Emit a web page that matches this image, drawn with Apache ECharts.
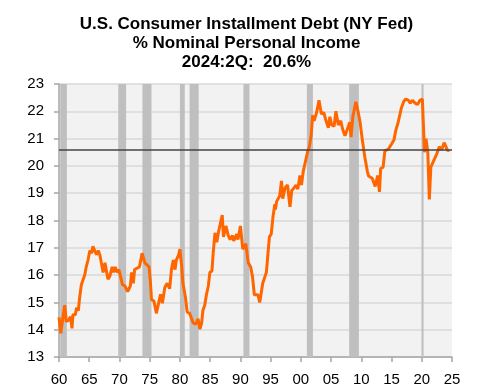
<!DOCTYPE html>
<html>
<head>
<meta charset="utf-8">
<script src="https://cdn.jsdelivr.net/npm/echarts@6/dist/echarts.min.js"></script>
<style>
html,body{margin:0;padding:0;background:#fff;}
#c{width:493px;height:391px;}
</style>
</head>
<body>
<div id="c"></div>
<script>
// Decimal year of each reading and the debt / income ratio (%)
const years = [
1960.0,1960.3,1960.7,1960.95,1961.2,1961.6,1961.9,1962.15,1962.3,1962.7,1962.9,1963.2,1963.4,1963.7,
1964.0,1964.25,1964.5,1964.8,1965.1,1965.4,1965.6,1965.9,1966.2,1966.5,1966.8,1967.0,1967.3,1967.6,
1967.8,1968.1,1968.4,1968.8,1969.0,1969.3,1969.6,1969.9,1970.2,1970.5,1970.9,1971.2,1971.35,1971.8,
1972.0,1972.3,1972.5,1972.9,1973.3,1973.75,1973.9,1974.2,1974.5,1974.9,1975.1,1975.3,1975.7,1976.1,
1976.6,1976.8,1977.1,1977.5,1977.9,1978.3,1978.6,1978.9,1979.2,1979.4,1979.8,1980.0,1980.3,1980.5,
1980.9,1981.2,1981.6,1981.9,1982.2,1982.6,1983.0,1983.3,1983.6,1983.8,1984.1,1984.4,1984.7,1984.95,
1985.3,1985.5,1985.8,1986.1,1986.4,1986.7,1987.0,1987.2,1987.6,1988.0,1988.3,1988.7,1988.9,1989.4,
1989.6,1990.0,1990.4,1990.9,1991.3,1991.7,1992.0,1992.3,1992.9,1993.2,1993.4,1993.7,1994.0,1994.3,
1994.8,1995.1,1995.4,1995.7,1995.8,1996.0,1996.5,1996.8,1997.0,1997.4,1997.8,1998.2,1998.5,1998.9,
1999.2,1999.5,1999.85,2000.1,2000.4,2000.85,2001.1,2001.4,2001.7,2001.95,2002.2,2002.6,2003.0,2003.4,
2003.8,2004.1,2004.55,2004.8,2005.1,2005.5,2005.8,2006.2,2006.6,2006.9,2007.3,2007.7,2008.1,2008.3,
2008.6,2009.1,2009.5,2009.8,2010.2,2010.6,2011.0,2011.2,2011.8,2012.3,2012.7,2013.0,2013.2,2013.6,
2013.9,2014.5,2015.0,2015.4,2015.7,2016.1,2016.6,2017.0,2017.35,2017.8,2018.1,2018.45,2018.9,2019.3,
2019.7,2020.1,2020.45,2020.7,2021.0,2021.25,2021.5,2022.0,2022.5,2022.9,2023.3,2023.7,2024.0,2024.3,2024.5
];
const ratio = [
14.45,13.87,14.55,14.9,14.3,14.35,14.48,14.05,14.55,14.55,14.8,14.7,15.15,15.65,
15.7,16.0,16.3,16.55,16.9,16.8,17.05,17.1,16.75,16.9,16.7,16.45,16.1,16.45,
16.4,15.85,15.95,16.3,16.1,16.3,16.1,16.2,16.2,15.65,15.6,15.65,15.4,15.6,
16.1,15.7,16.2,16.25,16.3,16.8,16.8,16.45,16.5,16.3,15.8,15.1,15.05,14.6,
15.1,15.3,14.97,15.55,15.7,15.5,16.2,16.55,16.2,16.55,16.75,16.95,16.3,15.7,
15.2,14.65,14.6,14.55,14.25,14.2,14.4,14.02,14.25,14.7,14.9,15.3,15.6,16.1,
16.15,16.8,17.55,17.2,17.6,17.9,18.2,17.4,17.8,17.45,17.3,17.45,17.25,17.5,
17.3,17.8,16.95,17.15,16.45,16.3,15.95,15.28,15.28,15.0,15.05,15.7,15.9,16.1,
17.4,17.5,18.15,18.6,18.4,18.7,18.9,19.45,18.8,19.2,19.3,18.5,19.1,19.2,
19.3,19.15,19.65,19.3,19.8,20.25,20.5,20.7,21.1,21.85,21.65,21.95,22.4,21.9,
21.95,21.7,21.4,21.8,21.5,21.45,22.0,21.5,21.65,21.35,21.1,21.35,21.6,21.05,
21.8,22.35,21.95,21.6,20.9,20.3,19.8,19.63,19.55,19.25,19.65,19.05,19.9,19.95,
20.55,20.62,20.8,20.95,21.3,21.6,22.1,22.35,22.45,22.4,22.3,22.4,22.3,22.25,
22.4,22.45,20.5,21.0,20.5,18.77,19.95,20.2,20.45,20.7,20.6,20.85,20.9,20.55,20.6
];
// Recession periods (decimal years)
const recessionStart = [1960.2, 1969.8, 1973.8, 1980.0, 1981.6, 1990.5, 2001.0, 2008.0, 2019.95];
const recessionEnd   = [1961.3, 1971.1, 1975.3, 1980.8, 1983.1, 1991.5, 2002.0, 2009.6, 2020.3];
const latestValue = 20.6;
const xTicks = {min: 1960, max: 2025, step: 5};
const yTicks = {min: 13, max: 23, step: 1};

const seriesData = years.map((y, i) => [y, ratio[i]]);
const areas = recessionStart.map((s, i) => [{xAxis: s}, {xAxis: recessionEnd[i]}]);

const chart = echarts.init(document.getElementById('c'), null, {renderer: 'canvas'});
const fontFam = '"Liberation Sans", Arial, sans-serif';
chart.setOption({
  animation: false,
  backgroundColor: '#ffffff',
  title: {
    text: '{b|U.S. Consumer Installment Debt (NY Fed)}\n{b|% Nominal Personal Income}\n{b|2024:2Q:  20.6%}',
    left: 'center',
    top: 15,
    padding: 0,
    textStyle: {
      rich: {
        b: {fontFamily: fontFam, fontWeight: 'bold', fontSize: 17, color: '#000', lineHeight: 19}
      }
    }
  },
  grid: {
    left: 59, right: 41, top: 84, bottom: 34,
    show: true, backgroundColor: '#f2f2f2', borderWidth: 0
  },
  xAxis: {
    type: 'value',
    min: xTicks.min, max: xTicks.max, interval: xTicks.step,
    axisLine: {show: true, lineStyle: {color: '#a6a6a6', width: 1.5}},
    axisTick: {show: true, length: 5, lineStyle: {color: '#a6a6a6', width: 1.5}},
    splitLine: {show: false},
    axisLabel: {
      color: '#000', fontSize: 15, fontFamily: fontFam, margin: 15,
      formatter: v => String(Math.round(v) % 100).padStart(2, '0')
    }
  },
  yAxis: {
    type: 'value',
    min: yTicks.min, max: yTicks.max, interval: yTicks.step,
    axisLine: {show: true, lineStyle: {color: '#a6a6a6', width: 1.5}},
    axisTick: {show: true, length: 5, lineStyle: {color: '#a6a6a6', width: 1.5}},
    splitLine: {show: true, lineStyle: {color: '#d9d9d9', width: 1.5}},
    axisLabel: {color: '#000', fontSize: 15, fontFamily: fontFam, margin: 15}
  },
  series: [{
    type: 'line',
    data: seriesData,
    showSymbol: false,
    smooth: false,
    lineStyle: {color: '#ff6600', width: 3},
    z: 3,
    markArea: {
      silent: true,
      itemStyle: {color: '#bfbfbf'},
      data: areas
    },
    markLine: {
      silent: true,
      symbol: ['none', 'none'],
      label: {show: false},
      lineStyle: {color: '#3f454b', width: 1.6, type: 'solid'},
      data: [{yAxis: latestValue}]
    }
  }]
});
</script>
</body>
</html>
